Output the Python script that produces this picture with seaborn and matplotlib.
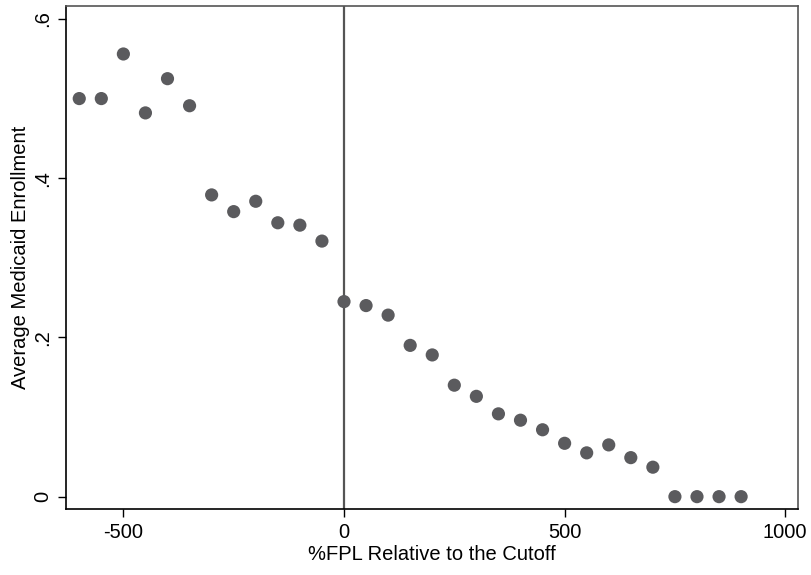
import matplotlib
matplotlib.use("Agg")
import matplotlib.pyplot as plt
import seaborn as sns
import pandas as pd

fpl = [-600, -550, -500, -450, -400, -350, -300, -250, -200, -150, -100, -50,
       0, 50, 100, 150, 200, 250, 300, 350, 400, 450, 500, 550, 600, 650, 700,
       750, 800, 850, 900]
enroll = [0.500, 0.500, 0.556, 0.482, 0.525, 0.491, 0.379, 0.358, 0.371, 0.344,
          0.341, 0.321, 0.245, 0.240, 0.228, 0.190, 0.178, 0.140, 0.126, 0.104,
          0.096, 0.084, 0.067, 0.055, 0.065, 0.049, 0.037, 0.0, 0.0, 0.0, 0.0]
xticks = [-500, 0, 500, 1000]
yticks = [0, 0.2, 0.4, 0.6]
ytick_labels = ["0", ".2", ".4", ".6"]

df = pd.DataFrame({"fpl": fpl, "enroll": enroll})

sns.set_theme(style="white")
plt.rcParams["font.family"] = ["Liberation Sans", "DejaVu Sans"]
plt.rcParams["text.color"] = "black"
plt.rcParams["axes.labelcolor"] = "black"
plt.rcParams["xtick.color"] = "black"
plt.rcParams["ytick.color"] = "black"

fig = plt.figure(figsize=(8.12, 5.75), dpi=100)
ax = fig.add_axes([0.0813, 0.1148, 0.9015, 0.8748])

ax.axvline(0, color="#555555", lw=1.6, zorder=1)
sns.scatterplot(data=df, x="fpl", y="enroll", ax=ax, color="#5b5b5e",
                s=90, edgecolor="none", zorder=3)

ax.set_xlim(-630, 1029)
ax.set_ylim(-0.0155, 0.6163)
ax.set_xticks(xticks)
ax.set_xticklabels([str(t) for t in xticks], fontsize=14.5)
ax.set_yticks(yticks)
ax.set_yticklabels(ytick_labels, fontsize=14.5, rotation=90, va="center")
ax.tick_params(axis="both", direction="out", length=6, width=1, color="black",
               labelcolor="black", bottom=True, left=True, pad=4)
ax.set_xlabel("%FPL Relative to the Cutoff", fontsize=14.5, labelpad=2, color="black")
ax.set_ylabel("Average Medicaid Enrollment", fontsize=14.5, labelpad=2, color="black")

for side in ["left", "bottom"]:
    ax.spines[side].set_color("black")
    ax.spines[side].set_linewidth(1.2)
for side in ["top", "right"]:
    ax.spines[side].set_color("#555555")
    ax.spines[side].set_linewidth(1.2)

fig.savefig("out.png", dpi=100)
